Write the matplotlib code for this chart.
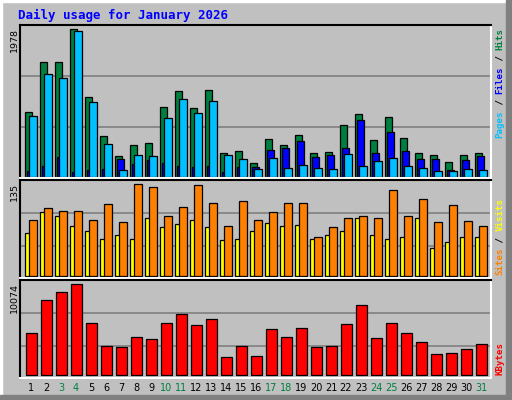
import matplotlib
matplotlib.use("Agg")
import matplotlib.pyplot as plt
from matplotlib.patches import Rectangle

days = list(range(1, 32))
weekend = [3, 4, 10, 11, 17, 18, 24, 25, 31]

hits = [864, 1535, 1535, 1978, 1066, 542, 274, 421, 448, 931, 1146, 918, 1159, 314, 341, 180,
        506, 421, 556, 314, 331, 690, 837, 488, 797, 515, 314, 287, 193, 287, 314]
files = [76, 148, 260, 59, 90, 103, 234, 170, 224, 184, 144, 130, 144, 67, 130, 130,
         354, 381, 475, 260, 287, 381, 757, 314, 596, 341, 234, 234, 86, 220, 274]
pages = [811, 1374, 1320, 1951, 998, 435, 86, 287, 274, 784, 1039, 851, 1012, 287, 234, 99,
         247, 117, 157, 113, 99, 301, 140, 207, 247, 140, 117, 72, 72, 99, 86]
sites = [64, 94, 88, 73, 66, 54, 61, 55, 85, 72, 76, 82, 72, 53, 55, 66,
         78, 73, 75, 54, 61, 66, 85, 61, 55, 57, 86, 41, 50, 57, 57]
visits = [82, 100, 95, 95, 82, 106, 79, 135, 131, 89, 101, 134, 107, 73, 111, 82,
          94, 107, 108, 57, 72, 85, 89, 85, 126, 88, 114, 79, 104, 81, 73]
kbytes = [4649, 8303, 9188, 10074, 5756, 3210, 3100, 4207, 3985, 5756, 6753, 5535, 6199, 1993, 3210, 2103,
          5092, 4207, 5203, 3100, 3210, 5646, 7749, 4096, 5756, 4649, 3653, 2325, 2435, 2878, 3432]

W, H = 512, 400
BG = '#C0C0C0'
fig = plt.figure(figsize=(W / 100, H / 100), dpi=100, facecolor=BG)

# outer 3d border
fig.patches.append(Rectangle((0, 0), 2 / W, 1, transform=fig.transFigure, color='white'))
fig.patches.append(Rectangle((0, 1 - 2 / H), 1, 2 / H, transform=fig.transFigure, color='white'))
fig.patches.append(Rectangle((506 / W, 0), 6 / W, 1, transform=fig.transFigure, color='#808080'))
fig.patches.append(Rectangle((0, 0), 1, 5 / H, transform=fig.transFigure, color='#808080'))

X0, X1 = 20, 491
xpos = [25 + (d - 1) * 15 for d in days]


def panel(top, bottom, base, maxh, maxval, grids):
    ax = fig.add_axes([X0 / W, 1 - bottom / H, (X1 - X0) / W, (bottom - top) / H])
    ax.set_facecolor(BG)
    k = maxval / maxh
    ax.set_xlim(X0, X1)
    ax.set_ylim(-(bottom - base) * k, (base - top) * k)
    for g in grids:
        ax.axhline((base - g) * k, color='#808080', lw=1.2, zorder=0)
    ax.set_xticks([])
    ax.set_yticks([])
    ax.spines['top'].set_color('black')
    ax.spines['left'].set_color('black')
    ax.spines['bottom'].set_color('white')
    ax.spines['right'].set_color('white')
    for s in ax.spines.values():
        s.set_linewidth(1.5)
    fig.text(14 / W, 1 - (top + 3) / H, str(maxval), rotation=90,
             ha='center', va='top', fontsize=6.8, family='DejaVu Sans')
    return ax


bar = dict(align='edge', edgecolor='black', linewidth=0.9)

ax1 = panel(25, 178, 176.7, 147.4, 1978, [127.3, 76.3])
ax1.bar(xpos, hits, 7.3, color='#008040', **bar)
ax1.bar([x + 2 for x in xpos], files, 7.3, color='#0000FF', **bar)
ax1.bar([x + 4 for x in xpos], pages, 7.5, color='#00C0FF', **bar)

ax2 = panel(180, 278, 276, 91.7, 135, [246.3, 213.3])
ax2.bar(xpos, sites, 4.5, color='#FFFF00', **bar)
ax2.bar([x + 4 for x in xpos], visits, 7.6, color='#FF8000', **bar)

ax3 = panel(280, 378, 375.3, 91, 10074, [346.3, 313.3])
ax3.bar([x + 1 for x in xpos], kbytes, 10.5, color='#FF0000', **bar)

# day labels
for d, x in zip(days, xpos):
    fig.text((x + 6) / W, 1 - 388 / H, str(d), ha='center', va='center', fontsize=7,
             color='#008040' if d in weekend else 'black')

fig.text(18 / W, 1 - 15 / H, 'Daily usage for January 2026', color='#0000FF', fontsize=9,
         fontweight='bold', family='DejaVu Sans Mono', va='center')


def side_label(pieces, bottom_px):
    cw = 5.5
    idx = 0
    for txt, col in pieces:
        if txt.strip():
            fig.text(500 / W, 1 - (bottom_px - idx * cw) / H, txt, rotation=90, ha='center',
                     va='bottom', color=col, fontsize=6.6, family='DejaVu Sans Mono',
                     fontweight='bold')
        idx += len(txt)


side_label([('Pages', '#00C0FF'), (' / ', 'black'), ('Files', '#0000FF'),
            (' / ', 'black'), ('Hits', '#008040')], 138)
side_label([('Sites', '#FF8000'), (' / ', 'black'), ('Visits', '#FFFF00')], 275)
side_label([('KBytes', '#FF0000')], 375)

fig.savefig('out.png', dpi=100, facecolor=BG)
